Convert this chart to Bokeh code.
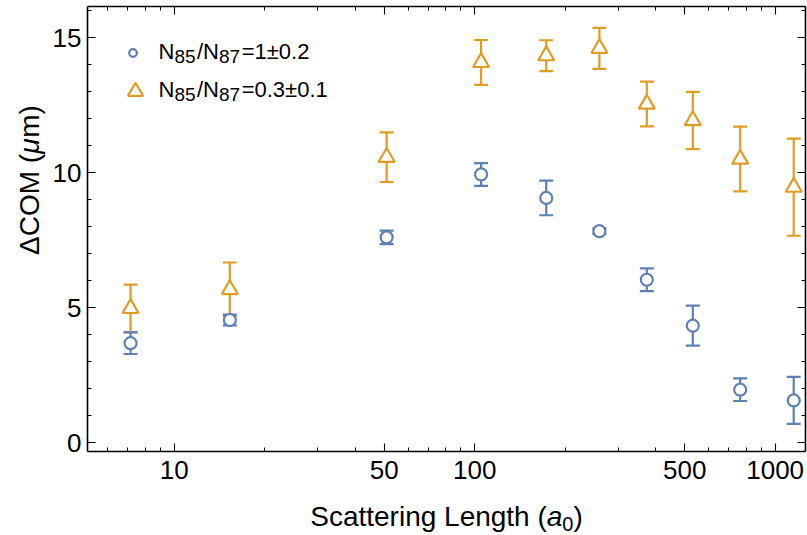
import math

from bokeh.plotting import figure
from bokeh.layouts import row, column
from bokeh.models import (ColumnDataSource, FixedTicker, LogAxis, LinearAxis, Whisker,
                          TeeHead, Legend, LegendItem, PrintfTickFormatter,
                          CustomJSTickFormatter, Range1d, Label)
from bokeh.embed import file_html
from bokeh.resources import INLINE

# Scattering length (Bohr radii) and centre-of-mass separation (micrometres)
scattering_length = [7.15, 15.3, 50.9, 105, 173, 260, 374, 532, 765, 1153]

ratio1_com = [3.68, 4.54, 7.60, 9.93, 9.06, 7.83, 6.03, 4.33, 1.96, 1.56]
ratio1_err = [0.40, 0.20, 0.25, 0.42, 0.64, 0.10, 0.42, 0.74, 0.42, 0.87]

ratio03_com = [4.97, 5.67, 10.57, 14.08, 14.33, 14.60, 12.54, 11.93, 10.50, 9.46]
ratio03_err = [0.88, 1.00, 0.92, 0.83, 0.57, 0.76, 0.83, 1.06, 1.20, 1.80]

# legend texts as (text, is_subscript) runs
series1_label = [("N", False), ("85", True), ("/N", False), ("87", True), ("=1±0.2", False)]
series2_label = [("N", False), ("85", True), ("/N", False), ("87", True), ("=0.3±0.1", False)]

x_major = [10, 50, 100, 500, 1000]
x_minor = [6, 7, 8, 9, 20, 30, 40, 60, 70, 80, 90, 200, 300, 400, 600, 700, 800, 900]
y_major = [0, 5, 10, 15]
y_minor = list(range(0, 17))

BLUE = "#5E81B5"
ORANGE = "#E19C24"
FONT = "Liberation Sans"

# overall page geometry
W, H = 807, 535
YT_W = 48            # strip holding the y-axis title
XT_H = 35            # strip holding the x-axis title
MAIN_W, MAIN_H = W - YT_W, H - XT_H
FRAME_L, FRAME_T, FRAME_R, FRAME_B = 87, 6, 805, 451   # page pixels

# Arial / Liberation Sans advance widths (em units) for laying out mixed-style text runs
ADV = {' ': .278, '(': .333, ')': .333, '/': .278, '=': .584, '±': .549, '.': .278,
       'S': .667, 'c': .5, 'a': .556, 't': .278, 'e': .556, 'r': .333, 'i': .222,
       'n': .556, 'g': .556, 'L': .556, 'h': .556, 'N': .722, 'Δ': .667, 'C': .722,
       'O': .778, 'M': .833, 'μ': .576, 'm': .833}
for d in "0123456789":
    ADV[d] = .556

# Label anchors sit this many em below the requested baseline; compensate for it
BASELINE_FIX = 0.35


def text_width(s, size):
    return sum(ADV.get(ch, .556) for ch in s) * size


def run_label(fig, x, y, text, size, style="normal", angle=0.0):
    # (x, y) is the wanted baseline start, in the figure's frame pixels (y up)
    fix = BASELINE_FIX * size
    x_adj = x - fix * math.sin(angle)
    y_adj = y + fix * math.cos(angle)
    fig.add_layout(Label(x=x_adj, y=y_adj, x_units="screen", y_units="screen", text=text,
                         angle=angle, text_font=FONT, text_font_size=f"{size}px",
                         text_font_style=style, text_color="black",
                         text_align="left", text_baseline="alphabetic"))


def blank_figure(w, h):
    f = figure(width=w, height=h, x_axis_type=None, y_axis_type=None,
               x_range=Range1d(0, 1), y_range=Range1d(0, 1),
               output_backend="svg", toolbar_location=None,
               min_border=0, min_border_left=0, min_border_right=0,
               min_border_top=0, min_border_bottom=0)
    f.grid.visible = False
    f.outline_line_color = None
    f.background_fill_color = "white"
    f.border_fill_color = "white"
    return f


# ---- main plot -------------------------------------------------------------
p = figure(width=MAIN_W, height=MAIN_H, x_axis_type="log",
           x_range=Range1d(5.14, 1262), y_range=Range1d(-0.33, 16.15),
           output_backend="svg", toolbar_location=None,
           min_border_left=FRAME_L - YT_W, min_border_right=W - FRAME_R,
           min_border_top=FRAME_T, min_border_bottom=MAIN_H - FRAME_B)
p.grid.visible = False
p.outline_line_color = None
p.background_fill_color = "white"
p.border_fill_color = "white"


def style_axis(ax, labelled=True):
    ax.axis_line_color = "black"
    ax.axis_line_width = 1.6
    ax.major_tick_line_color = "black"
    ax.minor_tick_line_color = "black"
    ax.major_tick_line_width = 1.1
    ax.minor_tick_line_width = 1.0
    ax.major_tick_in = 8
    ax.major_tick_out = 0
    ax.minor_tick_in = 4
    ax.minor_tick_out = 0
    ax.major_label_text_font = FONT
    ax.major_label_text_font_size = "26px"
    ax.major_label_text_color = "black"
    ax.axis_label = None
    if not labelled:
        ax.formatter = CustomJSTickFormatter(code="return ''")
        ax.major_label_standoff = 0


xb = p.xaxis[0]
xb.ticker = FixedTicker(ticks=x_major, minor_ticks=x_minor)
xb.formatter = PrintfTickFormatter(format="%d")
style_axis(xb)
xb.major_label_standoff = 9

yl = p.yaxis[0]
yl.ticker = FixedTicker(ticks=y_major, minor_ticks=y_minor)
style_axis(yl)
yl.major_label_standoff = 6

xt = LogAxis(ticker=FixedTicker(ticks=x_major, minor_ticks=x_minor))
style_axis(xt, labelled=False)
p.add_layout(xt, "above")

yr = LinearAxis(ticker=FixedTicker(ticks=y_major, minor_ticks=y_minor))
style_axis(yr, labelled=False)
p.add_layout(yr, "right")

src1 = ColumnDataSource(dict(
    x=scattering_length, y=ratio1_com,
    lo=[v - e for v, e in zip(ratio1_com, ratio1_err)],
    hi=[v + e for v, e in zip(ratio1_com, ratio1_err)]))
src2 = ColumnDataSource(dict(
    x=scattering_length, y=ratio03_com,
    lo=[v - e for v, e in zip(ratio03_com, ratio03_err)],
    hi=[v + e for v, e in zip(ratio03_com, ratio03_err)]))

for src, col in ((src2, ORANGE), (src1, BLUE)):
    p.add_layout(Whisker(source=src, base="x", lower="lo", upper="hi",
                         line_color=col, line_width=2.2,
                         upper_head=TeeHead(size=14, line_color=col, line_width=2.2),
                         lower_head=TeeHead(size=14, line_color=col, line_width=2.2)))

r2 = p.scatter("x", "y", source=src2, marker="triangle", size=16,
               line_color=ORANGE, line_width=2.2, fill_color="white")
r1 = p.scatter("x", "y", source=src1, marker="circle", size=12,
               line_color=BLUE, line_width=2.2, fill_color="white")


# Legend keys: one legend per series so each key gets its own glyph size
def key_legend(renderer, cx, cy, box):
    return Legend(items=[LegendItem(label=" ", renderers=[renderer])],
                  location=(cx - FRAME_L - box / 2, FRAME_B - cy - box / 2),
                  glyph_width=box, glyph_height=box, label_height=box, label_width=1,
                  label_standoff=0, padding=0, margin=0, spacing=0,
                  border_line_color=None, background_fill_alpha=0,
                  label_text_font=FONT, label_text_font_size="10px")


p.add_layout(key_legend(r1, 132, 52, 19))
p.add_layout(key_legend(r2, 134.7, 90.5, 38))

# Legend labels with subscripts
LEG_MAIN, LEG_SUB, SUB_DROP, SUB_GAP = 22, 19, 4, 1.5
for runs, base_y in ((series1_label, 58.3), (series2_label, 96.7)):
    sx = 158.0
    for txt, sub in runs:
        size = LEG_SUB if sub else LEG_MAIN
        yy = base_y + (SUB_DROP if sub else 0)
        run_label(p, sx - FRAME_L, FRAME_B - yy, txt, size)
        sx += text_width(txt, size) + (SUB_GAP if sub else 0)

# ---- axis titles -------------------------------------------------------------
TS = 28

# x-axis title: Scattering Length (a_0)
xt_fig = blank_figure(W, XT_H)
x_runs = [("Scattering Length (", TS, "normal", 0), ("a", TS, "italic", 0),
          ("0", 20, "normal", 5), (")", TS, "normal", 0)]
total = sum(text_width(t, s) for t, s, _, _ in x_runs)
sx = (FRAME_L + FRAME_R) / 2 - total / 2
base_page_y = 525.7
for t, s, st, drop in x_runs:
    run_label(xt_fig, sx, H - (base_page_y + drop), t, s, st)
    sx += text_width(t, s)

# y-axis title: ΔCOM (μm), rotated to read upwards
yt_fig = blank_figure(YT_W, MAIN_H)
y_runs = [("ΔCOM (", TS, "normal"), ("μ", TS, "italic"), ("m)", TS, "normal")]
total = sum(text_width(t, s) for t, s, _ in y_runs)
sy = (FRAME_T + FRAME_B) / 2 + total / 2
for t, s, st in y_runs:
    run_label(yt_fig, 38.3, MAIN_H - sy, t, s, st, angle=math.pi / 2)
    sy -= text_width(t, s)

layout = column(row(yt_fig, p, spacing=0), xt_fig, spacing=0)
open("out.html", "w").write(file_html(layout, INLINE))
